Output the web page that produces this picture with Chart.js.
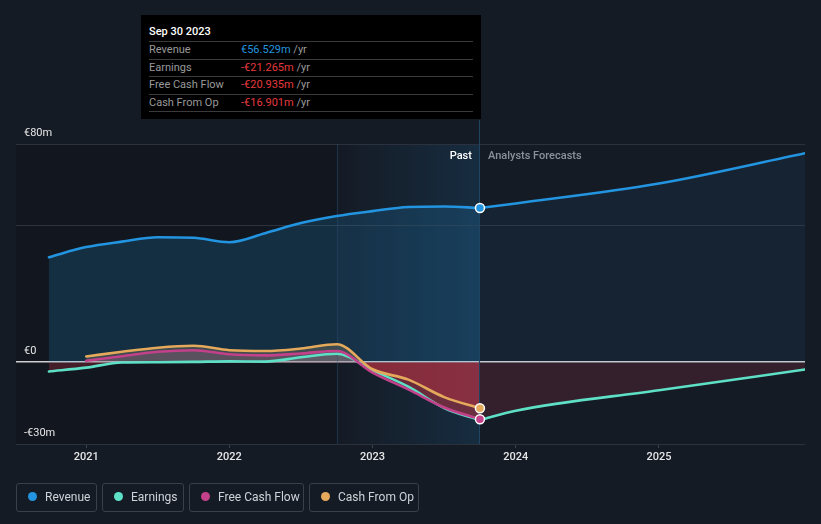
<!DOCTYPE html>
<html>
<head>
<meta charset="utf-8">
<script src="https://cdn.jsdelivr.net/npm/chart.js@4"></script>
<style>
  html, body { margin:0; padding:0; background:#151b25; width:821px; height:524px; overflow:hidden; font-family: Roboto, "Noto Sans", sans-serif; }
  #wrap { position:relative; width:821px; height:524px; }
  canvas { position:absolute; left:0; top:0; }
  .tt { position:absolute; left:141px; top:15px; width:340px; height:104px; background:#000; box-sizing:border-box; padding:10px 8px 0 8px; }
  .tt .title { color:#fff; font-size:11px; font-weight:500; line-height:14px; height:16px; }
  .tt .row { width:324px; height:16.5px; border-top:1px solid #3a3a3a; font-size:11px; line-height:16.5px; color:#9a9a9a; display:flex; white-space:nowrap; }
  .tt .row.last { border-bottom:1px solid #3a3a3a; }
  .tt .lab { width:92px; flex:none; }
  .tt .blue { color:#2394df; }
  .tt .red { color:#e6393d; }
  .legend { position:absolute; left:16px; top:483px; display:flex; gap:5px; }
  .legend .item { box-sizing:border-box; height:29px; border:1px solid #3a3f48; border-radius:3px; display:flex; align-items:center; padding:0 0 2px 11px; color:#cfd3d8; font-size:12px; white-space:nowrap; flex:none; }
  .legend .dot { width:9px; height:9px; border-radius:50%; margin-right:8px; flex:none; }
</style>
</head>
<body>
<div id="wrap">
  <canvas id="c" width="821" height="524"></canvas>
  <div class="tt">
    <div class="title">Sep 30 2023</div>
    <div class="row"><span class="lab">Revenue</span><span><span class="blue">€56.529m</span> /yr</span></div>
    <div class="row"><span class="lab">Earnings</span><span><span class="red">-€21.265m</span> /yr</span></div>
    <div class="row"><span class="lab">Free Cash Flow</span><span><span class="red">-€20.935m</span> /yr</span></div>
    <div class="row last"><span class="lab">Cash From Op</span><span><span class="red">-€16.901m</span> /yr</span></div>
  </div>
  <div class="legend">
    <div class="item" style="width:81px"><span class="dot" style="background:#2394df"></span>Revenue</div>
    <div class="item" style="width:82px"><span class="dot" style="background:#5ee0c7"></span>Earnings</div>
    <div class="item" style="width:115px"><span class="dot" style="background:#c2418a"></span>Free Cash Flow</div>
    <div class="item" style="width:110px"><span class="dot" style="background:#e5a95c"></span>Cash From Op</div>
  </div>
</div>
<script>
// ---- data (values in € millions, x in decimal years) ----
const pastYears = [2020.74, 2021.0, 2021.25, 2021.5, 2021.75, 2022.0, 2022.25, 2022.5, 2022.75, 2023.0, 2023.25, 2023.5, 2023.75];
const revenuePast  = [38.5, 42.2, 44.2, 45.8, 45.6, 44.0, 47.3, 51.0, 53.6, 55.4, 56.9, 57.1, 56.529];
const earningsPast = [-3.4, -2.0, -0.1, 0.0, 0.1, 0.3, 0.2, 1.8, 3.1, -3.0, -9.0, -16.8, -21.265];
const fcfPast      = [null, 0.5, 2.2, 3.8, 4.4, 2.9, 2.5, 3.2, 4.1, -3.8, -10.0, -16.6, -20.935];
const cfoPast      = [null, 2.1, 3.8, 5.3, 6.0, 4.4, 4.1, 5.0, 6.6, -2.6, -6.4, -12.8, -16.901];
const forecastYears    = [2023.75, 2024.0, 2025.0, 2026.02];
const revenueForecast  = [56.529, 58.2, 65.5, 76.6];
const earningsForecast = [-21.265, -17.8, -10.3, -2.7];
const xTicks = [2021, 2022, 2023, 2024, 2025];
const yTicks = [-30, 0, 50, 80];
const yTickLabels = {"-30": "-€30m", "0": "€0", "50": "", "80": "€80m"};
const nowX = 2023.75;
const bandStartX = 2022.75;

const C = { rev:'#2394df', earn:'#5ee0c7', fcf:'#c2418a', cfo:'#e5a95c' };
const pts = (xs, ys) => xs.map((x, i) => ({x, y: ys[i]}));
const lastDot = (n) => (ctx) => ctx.dataIndex === n - 1 ? 4.5 : 0;

function ds(label, xs, ys, color, above, below, dot) {
  return {
    label, data: pts(xs, ys), borderColor: color, backgroundColor: color,
    borderWidth: 2.6, cubicInterpolationMode: 'monotone', spanGaps: true,
    borderCapStyle: 'round', borderJoinStyle: 'round',
    fill: { target: 'origin', above, below },
    pointRadius: dot ? lastDot(xs.length) : 0, pointHoverRadius: 0,
    pointBackgroundColor: color, pointBorderColor: '#ffffff', pointBorderWidth: 1.5
  };
}

const decor = {
  id: 'decor',
  beforeDraw(chart) {
    const {ctx, chartArea: a, scales: {x}} = chart;
    const xb = x.getPixelForValue(bandStartX), xn = x.getPixelForValue(nowX);
    ctx.save();
    ctx.fillStyle = 'rgba(0,0,0,0.14)';
    ctx.fillRect(a.left, a.top, xb - a.left, a.bottom - a.top);
    const g = ctx.createLinearGradient(xb, 0, xn, 0);
    g.addColorStop(0, 'rgba(35,148,223,0.0)');
    g.addColorStop(1, 'rgba(35,148,223,0.15)');
    ctx.fillStyle = g;
    ctx.fillRect(xb, a.top, xn - xb, a.bottom - a.top);
    ctx.restore();
  },
  beforeDatasetsDraw(chart) {
    const {ctx, chartArea: a, scales: {x}} = chart;
    const xb = x.getPixelForValue(bandStartX), xn = x.getPixelForValue(nowX);
    ctx.save();
    ctx.strokeStyle = 'rgba(40,80,110,0.45)';
    ctx.lineWidth = 1;
    ctx.beginPath(); ctx.moveTo(Math.round(xb) + 0.5, a.top); ctx.lineTo(Math.round(xb) + 0.5, a.bottom); ctx.stroke();
    ctx.strokeStyle = '#1f4563';
    ctx.beginPath(); ctx.moveTo(Math.round(xn) - 0.5, a.top - 24); ctx.lineTo(Math.round(xn) - 0.5, a.bottom); ctx.stroke();
    ctx.font = '500 11px Roboto, "Noto Sans", sans-serif';
    ctx.textBaseline = 'middle';
    ctx.textAlign = 'right'; ctx.fillStyle = '#ffffff';
    ctx.fillText('Past', xn - 8, a.top + 12);
    ctx.textAlign = 'left'; ctx.fillStyle = '#8c9199';
    ctx.fillText('Analysts Forecasts', xn + 8, a.top + 12);
    ctx.restore();
  }
};

new Chart(document.getElementById('c'), {
  type: 'line',
  data: { datasets: [
    ds('Revenue', pastYears, revenuePast, C.rev, 'rgba(35,148,223,0.18)', 'rgba(35,148,223,0.18)', true),
    ds('Cash From Op', pastYears, cfoPast, C.cfo, 'rgba(229,169,92,0.25)', 'rgba(225,55,70,0.24)', true),
    ds('Free Cash Flow', pastYears, fcfPast, C.fcf, 'rgba(194,65,138,0.25)', 'rgba(225,55,70,0.24)', true),
    ds('Earnings', pastYears, earningsPast, C.earn, 'rgba(93,224,200,0.12)', 'rgba(225,55,70,0.24)', false),
    ds('Earnings forecast', forecastYears, earningsForecast, C.earn, 'rgba(93,224,200,0.1)', 'rgba(220,60,80,0.16)', false),
    ds('Revenue forecast', forecastYears, revenueForecast, C.rev, 'rgba(35,148,223,0.07)', 'rgba(35,148,223,0.07)', false)
  ]},
  options: {
    responsive: false, animation: false, events: [],
    layout: { padding: { left: 16, right: 16, top: 144, bottom: 50 } },
    scales: {
      x: {
        type: 'linear', min: 2020.51, max: 2026.02,
        afterBuildTicks: s => { s.ticks = xTicks.map(v => ({value: v})); },
        afterFit: s => { s.height = 30; },
        ticks: { callback: v => String(v), color: '#e6e6e6', font: { family: 'Roboto', size: 11, weight: '500' }, padding: 3, maxRotation: 0, autoSkip: false },
        grid: { drawOnChartArea: false, drawTicks: true, tickLength: 4, color: '#3c4350' },
        border: { display: false }
      },
      y: {
        min: -30, max: 80,
        afterBuildTicks: s => { s.ticks = yTicks.map(v => ({value: v})); },
        afterFit: s => { s.width = 0; },
        ticks: { mirror: true, padding: 8, labelOffset: -11, callback: v => yTickLabels[String(v)], color: '#e6e6e6', font: { family: 'Roboto', size: 11 } },
        grid: { drawTicks: false, color: c => c.tick && c.tick.value === 0 ? '#cfcfcf' : '#2c323d', lineWidth: c => c.tick && c.tick.value === 0 ? 1.5 : 1 },
        border: { display: false }
      }
    },
    plugins: { legend: { display: false }, tooltip: { enabled: false }, filler: { drawTime: 'beforeDatasetsDraw' } }
  },
  plugins: [decor]
});
</script>
</body>
</html>
